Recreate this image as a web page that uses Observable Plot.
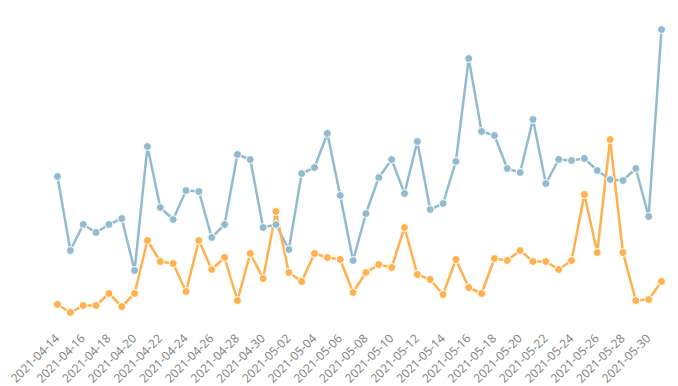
<!DOCTYPE html>
<html>
<head>
<meta charset="utf-8">
<script src="https://cdn.jsdelivr.net/npm/d3@7"></script>
<script src="https://cdn.jsdelivr.net/npm/@observablehq/plot@0.6"></script>
<style>
  html, body { margin: 0; padding: 0; background: #fff; }
  #chart svg { display: block; font-family: "Open Sans", sans-serif; }
</style>
</head>
<body>
<div id="chart"></div>
<script>
const startDate = "2021-04-14";
const dayCount = 48;
const seriesA = [154, 80, 106, 98, 106, 112, 60, 184, 123, 111, 140, 139, 93, 106, 176, 171, 103, 106, 81, 157, 163, 197, 135, 70, 117, 153, 171, 137, 189, 121, 127, 169, 272, 199, 195, 162, 158, 211, 147, 171, 170, 172, 160, 151, 150, 162, 114, 301];
const seriesB = [26, 18, 25, 25, 37, 24, 37, 90, 69, 67, 39, 90, 61, 73, 30, 77, 52, 119, 58, 49, 77, 73, 71, 38, 58, 66, 63, 103, 56, 51, 36, 71, 43, 37, 72, 70, 80, 69, 69, 61, 70, 136, 78, 191, 78, 30, 31, 49];
const colors = ["#93bbd0", "#ffb14e"];

const start = d3.utcParse("%Y-%m-%d")(startDate);
const dates = d3.range(dayCount).map(i => d3.utcDay.offset(start, i));
const tickDates = dates.filter((d, i) => i % 2 === 0);

const data = [];
dates.forEach((d, i) => {
  data.push({date: d, value: seriesA[i], series: "A"});
  data.push({date: d, value: seriesB[i], series: "B"});
});

const chart = Plot.plot({
  width: 678,
  height: 386,
  marginLeft: 57,
  marginRight: 17,
  marginTop: 20,
  marginBottom: 56,
  x: {type: "utc", domain: [dates[0], dates[dates.length - 1]]},
  y: {domain: [0, 310], axis: null},
  color: {domain: ["A", "B"], range: colors},
  marks: [
    Plot.axisX({
      ticks: tickDates,
      tickFormat: d3.utcFormat("%Y-%m-%d"),
      tickRotate: -45,
      tickSize: 0,
      tickPadding: 6,
      fontSize: 12,
      fill: "#808080",
      label: null
    }),
    Plot.line(data, {x: "date", y: "value", z: "series", stroke: "series", strokeWidth: 2.5, curve: "linear"}),
    Plot.dot(data, {x: "date", y: "value", fill: "series", stroke: "#fff", strokeWidth: 1, r: 4})
  ]
});
document.getElementById("chart").appendChild(chart);
</script>
</body>
</html>
